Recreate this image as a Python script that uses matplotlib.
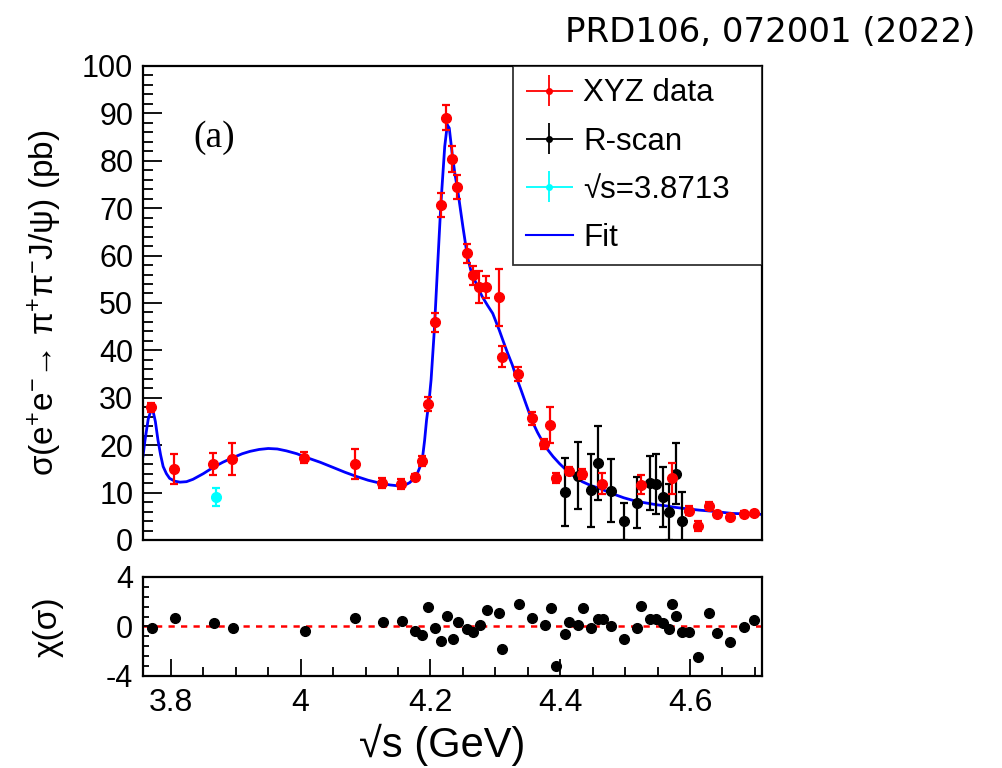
import numpy as np
import matplotlib
matplotlib.use("Agg")
import matplotlib.pyplot as plt
from matplotlib.ticker import MultipleLocator, FormatStrFormatter
from matplotlib.legend_handler import HandlerErrorbar

plt.rcParams['font.family'] = ['Liberation Sans', 'DejaVu Sans']
plt.rcParams['mathtext.default'] = 'regular'
plt.rcParams['axes.unicode_minus'] = False

# XYZ data (red)
xyz_x = [3.770, 3.805, 3.865, 3.894, 4.005, 4.083, 4.126, 4.155, 4.176, 4.187,
         4.197, 4.207, 4.216, 4.224, 4.233, 4.241, 4.256, 4.265, 4.275, 4.286,
         4.305, 4.310, 4.335, 4.356, 4.375, 4.385, 4.394, 4.413, 4.434, 4.465,
         4.525, 4.572, 4.598, 4.613, 4.629, 4.642, 4.662, 4.683, 4.699]
xyz_y = [28.0, 15.0, 16.0, 17.1, 17.4, 16.0, 12.0, 11.8, 13.3, 16.7,
         28.7, 45.9, 70.7, 89.1, 80.4, 74.5, 60.5, 55.8, 53.4, 53.4,
         51.2, 38.7, 35.0, 25.7, 20.2, 24.2, 13.1, 14.6, 13.9, 11.9,
         11.7, 13.0, 6.2, 3.0, 7.2, 5.5, 4.85, 5.5, 5.6]
xyz_err = [1.0, 3.2, 2.3, 3.4, 1.2, 3.2, 1.1, 1.1, 0.6, 1.0,
           1.5, 2.0, 2.6, 2.6, 2.7, 2.5, 2.0, 2.0, 3.3, 2.3,
           6.0, 2.2, 1.5, 1.4, 1.1, 3.8, 1.1, 0.9, 1.0, 2.2,
           2.1, 3.2, 1.0, 1.0, 0.9, 0.7, 0.6, 0.6, 0.6]

# R-scan data (black)
rscan_x = [4.408, 4.428, 4.448, 4.458, 4.478, 4.498, 4.518, 4.538, 4.548,
           4.558, 4.568, 4.578, 4.588]
rscan_y = [10.1, 13.6, 10.5, 16.2, 10.4, 3.9, 7.9, 12.1, 11.8, 9.1, 6.0, 14.0, 3.9]
rscan_err = [7.1, 7.1, 7.7, 7.8, 6.7, 4.0, 5.3, 5.7, 6.4, 6.3, 5.9, 6.5, 6.3]

# sqrt(s)=3.8713 point (cyan)
cyan_x = [3.869]
cyan_y = [9.07]
cyan_err = [1.9]

# fit curve
fit_x = [3.757, 3.760, 3.765, 3.771, 3.776, 3.780, 3.784, 3.788, 3.793, 3.798,
         3.806, 3.814, 3.824, 3.834, 3.850, 3.865, 3.880, 3.896, 3.910, 3.922,
         3.936, 3.950, 3.964, 3.978, 3.994, 4.009, 4.030, 4.050, 4.068, 4.086,
         4.104, 4.122, 4.138, 4.152, 4.161, 4.168, 4.175, 4.180, 4.185, 4.188,
         4.191, 4.194, 4.198, 4.201, 4.206, 4.211, 4.216, 4.222, 4.226, 4.229,
         4.234, 4.238, 4.242, 4.250, 4.257, 4.262, 4.268, 4.274, 4.280, 4.288,
         4.296, 4.306, 4.312, 4.319, 4.326, 4.332, 4.340, 4.347, 4.357, 4.365,
         4.373, 4.381, 4.389, 4.399, 4.409, 4.421, 4.434, 4.447, 4.460, 4.473,
         4.486, 4.498, 4.511, 4.524, 4.537, 4.550, 4.563, 4.576, 4.588, 4.601,
         4.614, 4.627, 4.640, 4.652, 4.665, 4.688, 4.711]
fit_y = [17.7, 21.0, 25.5, 28.1, 25.0, 21.1, 18.0, 15.5, 14.0, 13.0,
         12.4, 12.2, 12.3, 12.8, 14.0, 15.3, 16.4, 17.4, 18.2, 18.7,
         19.1, 19.3, 19.2, 18.8, 18.2, 17.4, 16.4, 15.3, 14.3, 13.4,
         12.6, 12.0, 11.6, 11.4, 11.6, 12.1, 13.0, 14.1, 15.8, 17.6,
         21.0, 25.3, 29.5, 33.8, 44.3, 57.7, 70.7, 83.0, 87.6, 86.9,
         80.9, 77.0, 73.8, 66.1, 59.8, 57.0, 54.9, 53.0, 51.3, 49.5,
         47.8, 44.3, 42.0, 39.4, 37.0, 34.5, 31.5, 28.8, 25.0, 22.7,
         20.7, 19.0, 17.6, 16.1, 14.8, 13.5, 12.3, 11.5, 10.9, 10.2,
         9.5, 8.9, 8.4, 8.0, 7.7, 7.4, 7.2, 6.9, 6.7, 6.5,
         6.3, 6.15, 6.0, 5.8, 5.6, 5.5, 5.4]

# pulls
chi_x = [3.771, 3.806, 3.867, 3.895, 4.006, 4.084, 4.127, 4.156, 4.176, 4.187,
         4.197, 4.207, 4.217, 4.225, 4.234, 4.242, 4.257, 4.265, 4.276, 4.287,
         4.306, 4.310, 4.336, 4.357, 4.376, 4.386, 4.394, 4.408, 4.414, 4.428,
         4.435, 4.448, 4.458, 4.466, 4.478, 4.498, 4.518, 4.525, 4.538, 4.548,
         4.558, 4.568, 4.573, 4.578, 4.588, 4.598, 4.613, 4.629, 4.641, 4.662,
         4.683, 4.698]
chi_y = [-0.10, 0.71, 0.28, -0.10, -0.34, 0.66, 0.34, 0.47, -0.39, -0.69,
         1.57, -0.10, -1.17, 0.85, -1.00, 0.39, -0.23, -0.42, 0.12, 1.33,
         1.06, -1.84, 1.81, 0.71, 0.09, 1.47, -3.16, -0.60, 0.36, 0.09,
         1.47, -0.15, 0.58, 0.63, 0.07, -1.03, -0.10, 1.65, 0.60, 0.60,
         0.31, -0.20, 1.81, 0.87, -0.47, -0.42, -2.46, 1.06, -0.55, -1.27,
         -0.07, 0.52]

xlim = (3.757, 4.711)

fig = plt.figure(figsize=(10.03, 7.68), dpi=100)
ax = fig.add_axes([0.1426, 0.2969, 0.6171, 0.6172])
axc = fig.add_axes([0.1426, 0.1198, 0.6171, 0.1289])

for a in (ax, axc):
    for sp in a.spines.values():
        sp.set_linewidth(1.6)
    a.set_xlim(*xlim)

eb = dict(fmt='o', ms=7, elinewidth=1.6, capsize=3, capthick=1.6)
ax.plot(fit_x, fit_y, color='#0000ff', lw=2.0, zorder=2)
ax.errorbar(rscan_x, rscan_y, yerr=rscan_err, color='black', zorder=3, **eb)
ax.errorbar(xyz_x, xyz_y, yerr=xyz_err, color='red', zorder=4, **eb)
ax.errorbar(cyan_x, cyan_y, yerr=cyan_err, color='cyan', zorder=4, **eb)

ax.set_ylim(0, 100)
ax.yaxis.set_major_locator(MultipleLocator(10))
ax.yaxis.set_minor_locator(MultipleLocator(2))
ax.tick_params(axis='y', which='major', direction='in', length=14, width=1.3,
               labelsize=22, pad=7)
ax.tick_params(axis='y', which='minor', direction='in', length=7, width=1.3)
ax.tick_params(axis='x', which='both', bottom=False, labelbottom=False)
ax.set_ylabel('σ(e$^{+}$e$^{-}$→ π$^{+}$π$^{-}$J/ψ) (pb)', fontsize=24)
ax.yaxis.set_label_coords(-0.128, 0.5)

ax.text(0.082, 0.83, '(a)', transform=ax.transAxes, fontsize=27,
        family=['Liberation Serif', 'DejaVu Serif'])

# legend proxies
h1 = ax.errorbar([np.nan], [np.nan], xerr=[1], yerr=[1], fmt='o', ms=4,
                 color='red', elinewidth=1.3, capsize=0)
h2 = ax.errorbar([np.nan], [np.nan], xerr=[1], yerr=[1], fmt='o', ms=4,
                 color='black', elinewidth=1.3, capsize=0)
h3 = ax.errorbar([np.nan], [np.nan], xerr=[1], yerr=[1], fmt='o', ms=4,
                 color='cyan', elinewidth=1.3, capsize=0)
h4, = ax.plot([], [], color='#0000ff', lw=1.5)
hm = HandlerErrorbar(xerr_size=0.75, yerr_size=0.5)
leg = ax.legend([h1, h2, h3, h4], ['XYZ data', 'R-scan', '√s=3.8713', 'Fit'],
                loc='upper left', bbox_to_anchor=(0.598, 0.59, 0.402, 0.41),
                mode='expand', borderaxespad=0,
                fontsize=22.5, frameon=True, fancybox=False, handlelength=1.5,
                handletextpad=0.35, labelspacing=0.58, borderpad=0.4,
                handler_map={h1: hm, h2: hm, h3: hm})
leg.get_frame().set_edgecolor('black')
leg.get_frame().set_linewidth(1.3)

# pull panel
axc.axhline(0, color='red', lw=1.8, ls=(0, (2.5, 2.5)), zorder=1)
axc.plot(chi_x, chi_y, 'o', color='black', ms=7, zorder=2)
axc.set_ylim(-4, 4)
axc.yaxis.set_major_locator(MultipleLocator(4))
axc.yaxis.set_minor_locator(MultipleLocator(0.8))
axc.xaxis.set_major_locator(MultipleLocator(0.2))
axc.xaxis.set_minor_locator(MultipleLocator(0.05))
axc.xaxis.set_major_formatter(FormatStrFormatter('%g'))
axc.tick_params(axis='y', which='major', direction='in', length=7, width=1.3,
                labelsize=22, pad=7)
axc.tick_params(axis='y', which='minor', direction='in', length=4, width=1.3)
axc.tick_params(axis='x', which='major', direction='in', length=12, width=1.3,
                labelsize=23, pad=9)
axc.tick_params(axis='x', which='minor', direction='in', length=6.5, width=1.3)
axc.set_ylabel('χ(σ)', fontsize=24)
axc.yaxis.set_label_coords(-0.128, 0.5)

fig.text(0.441, 0.030, '√s (GeV)', fontsize=30, ha='center', va='center')
fig.text(0.972, 0.958, 'PRD106, 072001 (2022)', fontsize=24.5, ha='right',
         va='center', family=['DejaVu Sans'])

fig.savefig('out.png', dpi=100)
